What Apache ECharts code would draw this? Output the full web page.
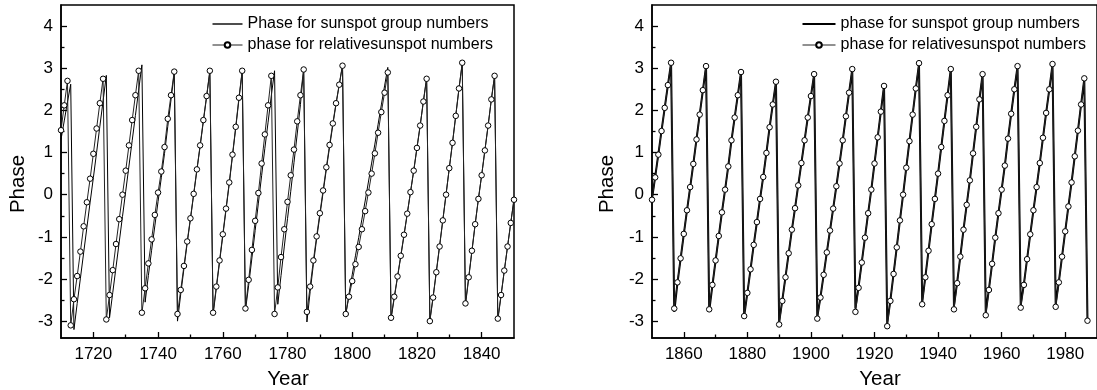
<!DOCTYPE html>
<html><head><meta charset="utf-8">
<script src="https://cdn.jsdelivr.net/npm/echarts@6/dist/echarts.min.js"></script>
<style>html,body{margin:0;padding:0;background:#fff}#c{width:1097px;height:390px}</style>
</head><body><div id="c"></div>
<script>
// ---- data (phase values, one per year) ----
const firstYearLeft = 1710;
const firstYearRight = 1850;
const relLeft = [
 1.53, 2.12, 2.70, -3.10, -2.48, -1.93, -1.35, -0.75, -0.18, 0.38,
 0.97, 1.57, 2.17, 2.75, -2.96, -2.38, -1.79, -1.17, -0.58, 0.00,
 0.57, 1.17, 1.77, 2.36, 2.94, -2.80, -2.22, -1.63, -1.06, -0.48,
 0.05, 0.55, 1.13, 1.80, 2.36, 2.92, -2.83, -2.26, -1.69, -1.11,
 -0.56, 0.02, 0.60, 1.17, 1.77, 2.34, 2.94, -2.80, -2.18, -1.56,
 -0.94, -0.33, 0.29, 0.95, 1.61, 2.30, 2.94, -2.70, -2.02, -1.31,
 -0.62, 0.04, 0.74, 1.43, 2.12, 2.82, -2.83, -2.20, -1.48, -0.82,
 -0.17, 0.46, 1.07, 1.74, 2.36, 2.97, -2.78, -2.18, -1.56, -0.99,
 -0.44, 0.10, 0.65, 1.18, 1.69, 2.17, 2.61, 3.06, -2.83, -2.42,
 -2.05, -1.65, -1.24, -0.82, -0.39, 0.05, 0.50, 0.98, 1.47, 1.96,
 2.42, 2.90, -2.92, -2.42, -1.94, -1.45, -0.95, -0.45, 0.06, 0.57,
 1.11, 1.64, 2.21, 2.75, -3.00, -2.44, -1.84, -1.23, -0.61, 0.00,
 0.63, 1.23, 1.87, 2.52, 3.13, -2.58, -1.96, -1.33, -0.70, -0.10,
 0.46, 1.05, 1.64, 2.26, 2.82, -2.94, -2.38, -1.80, -1.23, -0.67,
 -0.12
];
const grpLeft = [
 1.31, 1.75, 2.20, 2.62, -3.20, -2.58, -1.98, -1.38, -0.78, -0.18,
 0.40, 1.00, 1.62, 2.22, 2.83, -2.92, -2.32, -1.72, -1.12, -0.52,
 0.08, 0.68, 1.28, 1.88, 2.48, 3.08, -2.55, -1.92, -1.32, -0.74,
 -0.16, 0.40, 0.98, 1.62, 2.25, 2.90, -3.00, -2.36, -1.75, -1.15,
 -0.58, 0.00, 0.58, 1.15, 1.74, 2.32, 2.92, -2.85, -2.22, -1.60,
 -0.98, -0.36, 0.26, 0.92, 1.58, 2.27, 2.92, -2.75, -2.15, -1.50,
 -0.85, -0.20, 0.45, 1.10, 1.72, 2.35, 2.94, -2.60, -1.92, -1.24,
 -0.57, 0.08, 0.76, 1.44, 2.14, 2.98, -3.02, -2.30, -1.65, -1.05,
 -0.50, 0.05, 0.60, 1.13, 1.65, 2.15, 2.62, 3.08, -2.85, -2.36,
 -1.90, -1.45, -1.02, -0.58, -0.15, 0.30, 0.75, 1.20, 1.67, 2.13,
 2.58, 3.02, -2.95, -2.45, -1.96, -1.47, -0.97, -0.46, 0.05, 0.56,
 1.10, 1.64, 2.22, 2.78, -2.98, -2.42, -1.82, -1.21, -0.60, 0.01,
 0.63, 1.24, 1.88, 2.52, 3.10, -2.62, -1.98, -1.34, -0.70, -0.10,
 0.46, 1.05, 1.64, 2.26, 2.82, -2.98, -2.40, -1.81, -1.24, -0.67,
 -0.10
];
const relRight = [
 -0.12, 0.41, 0.95, 1.51, 2.06, 2.60, 3.13, -2.70, -2.08, -1.51,
 -0.93, -0.37, 0.18, 0.73, 1.31, 1.90, 2.48, 3.05, -2.72, -2.14,
 -1.56, -0.98, -0.42, 0.12, 0.67, 1.29, 1.83, 2.36, 2.91, -2.88,
 -2.33, -1.77, -1.19, -0.65, -0.10, 0.42, 0.99, 1.60, 2.14, 2.68,
 -3.08, -2.52, -1.96, -1.39, -0.83, -0.32, 0.22, 0.75, 1.29, 1.83,
 2.34, 2.86, -2.94, -2.44, -1.90, -1.37, -0.85, -0.33, 0.20, 0.74,
 1.29, 1.86, 2.42, 2.98, -2.78, -2.21, -1.61, -1.02, -0.44, 0.12,
 0.74, 1.36, 1.97, 2.58, -3.12, -2.52, -1.88, -1.25, -0.61, 0.00,
 0.64, 1.27, 1.90, 2.52, 3.12, -2.60, -1.96, -1.33, -0.70, -0.10,
 0.50, 1.13, 1.75, 2.36, 2.98, -2.72, -2.10, -1.47, -0.83, -0.24,
 0.34, 0.98, 1.61, 2.26, 2.86, -2.86, -2.26, -1.64, -1.02, -0.44,
 0.12, 0.69, 1.33, 1.92, 2.50, 3.05, -2.68, -2.14, -1.53, -0.94,
 -0.37, 0.18, 0.75, 1.35, 1.94, 2.50, 3.10, -2.66, -2.08, -1.47,
 -0.87, -0.28, 0.29, 0.91, 1.52, 2.14, 2.76, -2.99
];
const grpRight = [
 -0.10, 0.42, 0.96, 1.52, 2.06, 2.60, 3.12, -2.78, -2.10, -1.52,
 -0.94, -0.38, 0.17, 0.73, 1.31, 1.90, 2.47, 3.04, -2.76, -2.16,
 -1.57, -0.99, -0.42, 0.12, 0.68, 1.28, 1.83, 2.36, 2.90, -2.88,
 -2.33, -1.77, -1.19, -0.65, -0.10, 0.43, 1.00, 1.60, 2.14, 2.67,
 -3.02, -2.50, -1.95, -1.39, -0.84, -0.32, 0.22, 0.75, 1.29, 1.83,
 2.34, 2.85, -2.90, -2.43, -1.90, -1.37, -0.85, -0.33, 0.20, 0.74,
 1.29, 1.86, 2.42, 2.97, -2.70, -2.18, -1.60, -1.02, -0.44, 0.12,
 0.74, 1.36, 1.97, 2.58, -3.05, -2.50, -1.88, -1.25, -0.61, 0.00,
 0.64, 1.27, 1.90, 2.52, 3.10, -2.55, -1.95, -1.33, -0.70, -0.10,
 0.50, 1.13, 1.75, 2.36, 2.97, -2.64, -2.08, -1.47, -0.83, -0.24,
 0.34, 0.98, 1.61, 2.26, 2.85, -2.80, -2.24, -1.64, -1.02, -0.44,
 0.12, 0.69, 1.33, 1.92, 2.50, 3.04, -2.62, -2.12, -1.53, -0.94,
 -0.37, 0.18, 0.75, 1.35, 1.94, 2.50, 3.08, -2.60, -2.06, -1.47,
 -0.87, -0.28, 0.29, 0.91, 1.52, 2.14, 2.74, -2.95
];
// ---- ticks / labels ----
const yMajorTicks = [-3, -2, -1, 0, 1, 2, 3, 4];
const yMinorTicks = [-2.5, -1.5, -0.5, 0.5, 1.5, 2.5, 3.5];
const xLeftMajor = [1720, 1740, 1760, 1780, 1800, 1820, 1840];
const xLeftMinor = [1730, 1750, 1770, 1790, 1810, 1830];
const xRightMajor = [1860, 1880, 1900, 1920, 1940, 1960, 1980];
const xRightMinor = [1870, 1890, 1910, 1930, 1950, 1970];
const nameGrpLeft = 'Phase for sunspot group numbers';
const nameGrpRight = 'phase for sunspot group numbers';
const nameRel = 'phase for relativesunspot numbers';
const axisTitleY = 'Phase';
const axisTitleX = 'Year';

const FONT = '"Liberation Sans", Arial, Helvetica, sans-serif';
const pairs = (start, vals) => vals.map((v, i) => [start + i, v]);
const plain = v => String(v);

function xAxes(grid, min, max, major, minor) {
  return [
    { gridIndex: grid, type: 'value', min: min, max: max, position: 'bottom',
      axisLine: { show: true, onZero: false, lineStyle: { color: '#000', width: 1.5 } },
      axisTick: { show: true, inside: true, length: 6, customValues: major, lineStyle: { color: '#000', width: 1.3 } },
      axisLabel: { show: true, customValues: major, formatter: plain, color: '#000', fontSize: 17, fontFamily: FONT, margin: 8 },
      splitLine: { show: false } },
    { gridIndex: grid, type: 'value', min: min, max: max, position: 'bottom',
      axisLine: { show: false, onZero: false },
      axisTick: { show: true, inside: true, length: 3.5, customValues: minor, lineStyle: { color: '#000', width: 1.3 } },
      axisLabel: { show: false },
      splitLine: { show: false } }
  ];
}
function yAxes(grid) {
  return [
    { gridIndex: grid, type: 'value', min: -3.4, max: 4.5, position: 'left',
      axisLine: { show: true, onZero: false, lineStyle: { color: '#000', width: 1.5 } },
      axisTick: { show: true, inside: true, length: 6, customValues: yMajorTicks, lineStyle: { color: '#000', width: 1.3 } },
      axisLabel: { show: true, customValues: yMajorTicks, formatter: plain, color: '#000', fontSize: 17, fontFamily: FONT, margin: 8 },
      splitLine: { show: false } },
    { gridIndex: grid, type: 'value', min: -3.4, max: 4.5, position: 'left',
      axisLine: { show: false, onZero: false },
      axisTick: { show: true, inside: true, length: 3.5, customValues: yMinorTicks, lineStyle: { color: '#000', width: 1.3 } },
      axisLabel: { show: false },
      splitLine: { show: false } }
  ];
}

const relStyle = {
  type: 'line', symbol: 'circle', symbolSize: 5.5, showSymbol: true,
  lineStyle: { color: '#222', width: 1 },
  itemStyle: { color: '#fff', borderColor: '#000', borderWidth: 1 },
  z: 3
};

const option = {
  animation: false,
  backgroundColor: '#fff',
  grid: [
    { left: 61, top: 5, width: 453, height: 333, show: true, borderColor: '#000', borderWidth: 1.5, backgroundColor: 'transparent' },
    { left: 652, top: 5, width: 453, height: 333, show: true, borderColor: '#000', borderWidth: 1.5, backgroundColor: 'transparent' }
  ],
  xAxis: [].concat(
    xAxes(0, 1710, 1850, xLeftMajor, xLeftMinor),
    xAxes(1, 1850, 1990, xRightMajor, xRightMinor)
  ),
  yAxis: [].concat(yAxes(0), yAxes(1)),
  legend: [
    { left: 212, top: 16, padding: 0, orient: 'vertical', itemWidth: 30, itemHeight: 7, itemGap: 5,
      data: [
        { name: nameGrpLeft, icon: 'path://M0,0 L30,0 L30,1.4 L0,1.4 Z' },
        { name: nameRel }
      ],
      lineStyle: { width: 1 },
      textStyle: { fontSize: 16, color: '#000', fontFamily: FONT } },
    { left: 802, top: 16, padding: 0, orient: 'vertical', itemWidth: 33, itemHeight: 7, itemGap: 5,
      data: [
        { name: nameGrpRight, icon: 'path://M0,0 L33,0 L33,2 L0,2 Z' },
        { name: nameRel }
      ],
      lineStyle: { width: 1 },
      textStyle: { fontSize: 16, color: '#000', fontFamily: FONT } }
  ],
  series: [
    { name: nameGrpLeft, type: 'line', xAxisIndex: 0, yAxisIndex: 0, symbol: 'none',
      data: pairs(firstYearLeft, grpLeft), lineStyle: { color: '#000', width: 1 }, itemStyle: { color: '#000' }, z: 2 },
    Object.assign({ name: nameRel, xAxisIndex: 0, yAxisIndex: 0, data: pairs(firstYearLeft, relLeft) }, relStyle),
    { name: nameGrpRight, type: 'line', xAxisIndex: 2, yAxisIndex: 2, symbol: 'none',
      data: pairs(firstYearRight, grpRight), lineStyle: { color: '#000', width: 2 }, itemStyle: { color: '#000' }, z: 2 },
    Object.assign({ name: nameRel, xAxisIndex: 2, yAxisIndex: 2, data: pairs(firstYearRight, relRight) }, relStyle)
  ],
  graphic: [
    { type: 'text', x: 18, y: 184, rotation: Math.PI / 2,
      style: { text: axisTitleY, fontSize: 20.5, fontFamily: FONT, fill: '#000', align: 'center', verticalAlign: 'middle' } },
    { type: 'text', x: 607, y: 184, rotation: Math.PI / 2,
      style: { text: axisTitleY, fontSize: 20.5, fontFamily: FONT, fill: '#000', align: 'center', verticalAlign: 'middle' } },
    { type: 'text', x: 288, y: 379,
      style: { text: axisTitleX, fontSize: 20.5, fontFamily: FONT, fill: '#000', align: 'center', verticalAlign: 'middle' } },
    { type: 'text', x: 880, y: 379,
      style: { text: axisTitleX, fontSize: 20.5, fontFamily: FONT, fill: '#000', align: 'center', verticalAlign: 'middle' } }
  ]
};
const chart = echarts.init(document.getElementById('c'), null, { renderer: 'canvas' });
chart.setOption(option);
</script></body></html>
